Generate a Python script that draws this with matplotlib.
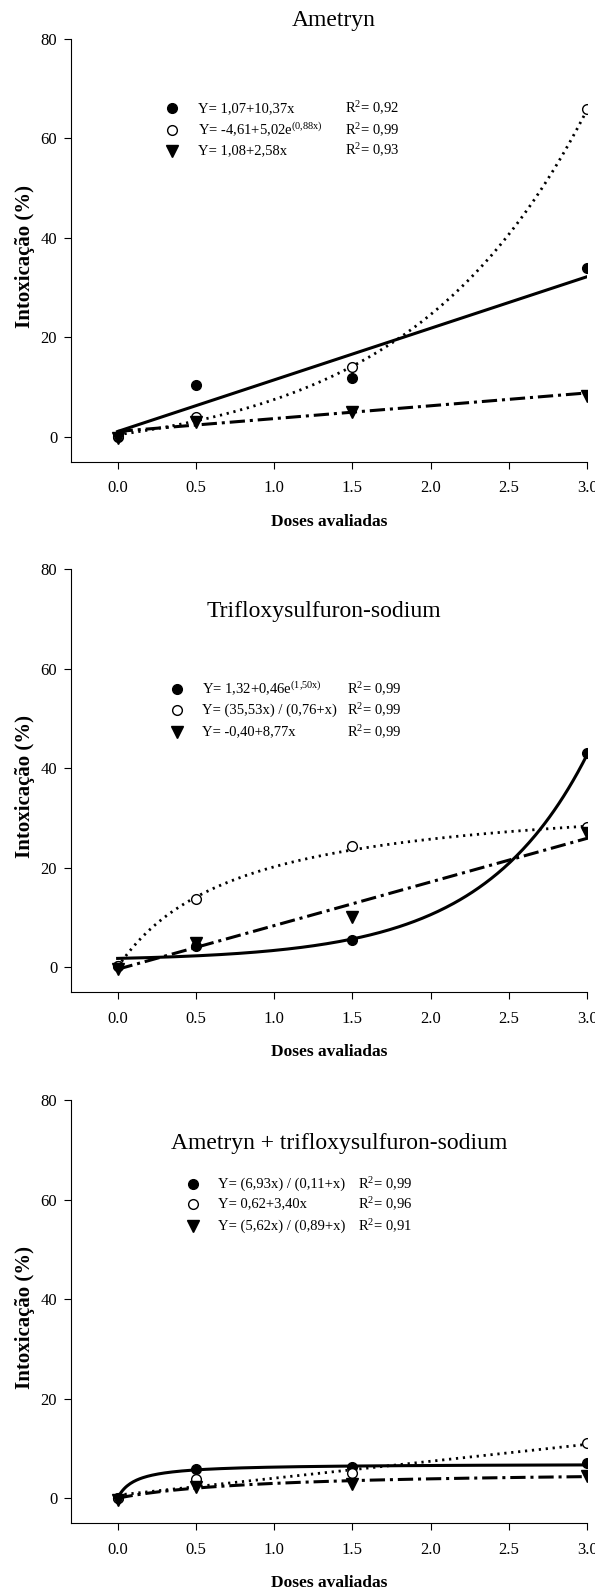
import matplotlib
matplotlib.use('Agg')
import matplotlib.pyplot as plt
import numpy as np

plt.rcParams['font.family'] = ['Liberation Serif', 'DejaVu Serif']
plt.rcParams['mathtext.fontset'] = 'custom'
plt.rcParams['mathtext.rm'] = 'Liberation Serif'
plt.rcParams['mathtext.it'] = 'Liberation Serif:italic'

doses = [0.0, 0.5, 1.5, 3.0]

titles = ['Ametryn', 'Trifloxysulfuron-sodium', 'Ametryn + trifloxysulfuron-sodium']

# per panel: filled circle, open circle, triangle series
filled = [[0.0, 10.5, 11.8, 34.0],
          [0.2, 4.3, 5.5, 43.0],
          [0.0, 5.9, 6.3, 7.0]]
opened = [[0.2, 4.0, 14.0, 65.8],
          [0.3, 13.7, 24.3, 28.2],
          [0.0, 3.8, 5.1, 11.0]]
triang = [[-0.3, 3.0, 5.0, 8.3],
          [-0.3, 4.8, 10.0, 27.0],
          [-0.3, 2.2, 2.8, 4.5]]

# fitted models printed on the figure
# lin: a+b*x ; exp: a+b*e^(c x) ; hyp: a*x/(b+x)
fits = [[('lin', 1.07, 10.37), ('exp', -4.61, 5.02, 0.88), ('lin', 1.08, 2.58)],
        [('exp', 1.32, 0.46, 1.50), ('hyp', 35.53, 0.76), ('lin', -0.40, 8.77)],
        [('hyp', 6.93, 0.11), ('lin', 0.62, 3.40), ('hyp', 5.62, 0.89)]]

eqs = [['Y= 1,07+10,37x', r'Y= -4,61+5,02e$^{\mathrm{(0{,}88x)}}$', 'Y= 1,08+2,58x'],
       [r'Y= 1,32+0,46e$^{\mathrm{(1{,}50x)}}$', 'Y= (35,53x) / (0,76+x)', 'Y= -0,40+8,77x'],
       ['Y= (6,93x) / (0,11+x)', 'Y= 0,62+3,40x', 'Y= (5,62x) / (0,89+x)']]
r2 = [['0,92', '0,99', '0,93'],
      ['0,99', '0,99', '0,99'],
      ['0,99', '0,96', '0,91']]


def model(f, x):
    if f[0] == 'lin':
        return f[1] + f[2] * x
    if f[0] == 'exp':
        return f[1] + f[2] * np.exp(f[3] * x)
    return f[1] * x / (f[2] + x)


fig = plt.figure(figsize=(5.95, 15.91), dpi=100)

# axes boxes (left, bottom, width, height)
boxes = [[0.1188, 0.7098, 0.868, 0.2659],
         [0.1188, 0.3764, 0.868, 0.2659],
         [0.1188, 0.0427, 0.868, 0.2659]]
# title position in axes fraction
title_pos = [(0.51, 1.042), (0.49, 0.899), (0.52, 0.897)]
# legend layout: marker x, text x, R2 x, row y's (data coords)
leg = [(0.345, 0.515, 1.453, [66.0, 61.7, 57.5]),
       (0.377, 0.537, 1.464, [55.9, 51.6, 47.3]),
       (0.480, 0.643, 1.538, [63.1, 59.1, 54.7])]

styles = [dict(color='black', lw=2.2, ls='-'),
          dict(color='black', lw=2.0, ls=(0, (0.8, 1.7))),
          dict(color='black', lw=2.2, ls=(0, (5, 1.6, 1, 1.6)))]
mk = [dict(marker='o', ms=7, mfc='black', mec='black'),
      dict(marker='o', ms=7, mfc='white', mec='black', mew=1.0),
      dict(marker='v', ms=8, mfc='black', mec='black')]

xx = np.linspace(0, 3, 300)

for i in range(3):
    ax = fig.add_axes(boxes[i])
    series = [filled[i], opened[i], triang[i]]
    for j in range(3):
        ax.plot(xx, model(fits[i][j], xx), **styles[j], zorder=2)
    for j in range(3):
        ax.plot(doses, series[j], ls='none', **mk[j], zorder=3)

    ax.set_xlim(-0.3, 3.0)
    ax.set_ylim(-5, 80)
    ax.set_xticks([0.0, 0.5, 1.0, 1.5, 2.0, 2.5, 3.0])
    ax.set_xticklabels(['0.0', '0.5', '1.0', '1.5', '2.0', '2.5', '3.0'])
    ax.set_yticks([0, 20, 40, 60, 80])
    ax.spines['top'].set_visible(False)
    ax.spines['right'].set_visible(False)
    ax.tick_params(direction='out', length=4.7, width=0.8, labelsize=12)
    ax.tick_params(axis='x', pad=8.6)
    ax.tick_params(axis='y', pad=5)

    ax.set_ylabel('Intoxicação (%)', fontsize=15, fontweight='bold', va='center')
    ax.yaxis.set_label_coords(-0.0885, 0.486)
    ax.set_xlabel('Doses avaliadas', fontsize=12.5, fontweight='bold', va='center')
    ax.xaxis.set_label_coords(0.5, -0.142)

    ax.text(title_pos[i][0], title_pos[i][1], titles[i], transform=ax.transAxes,
            ha='center', va='center', fontsize=17)

    mx, tx, rx, rows = leg[i]
    for j in range(3):
        ax.plot([mx], [rows[j]], ls='none', **mk[j], clip_on=False)
        ax.text(tx, rows[j], eqs[i][j], fontsize=10.5, va='center', ha='left')
        ax.text(rx, rows[j], 'R$^{\\mathrm{2}}$= ' + r2[i][j], fontsize=10.5,
                va='center', ha='left')

fig.savefig('out.png', dpi=100)
